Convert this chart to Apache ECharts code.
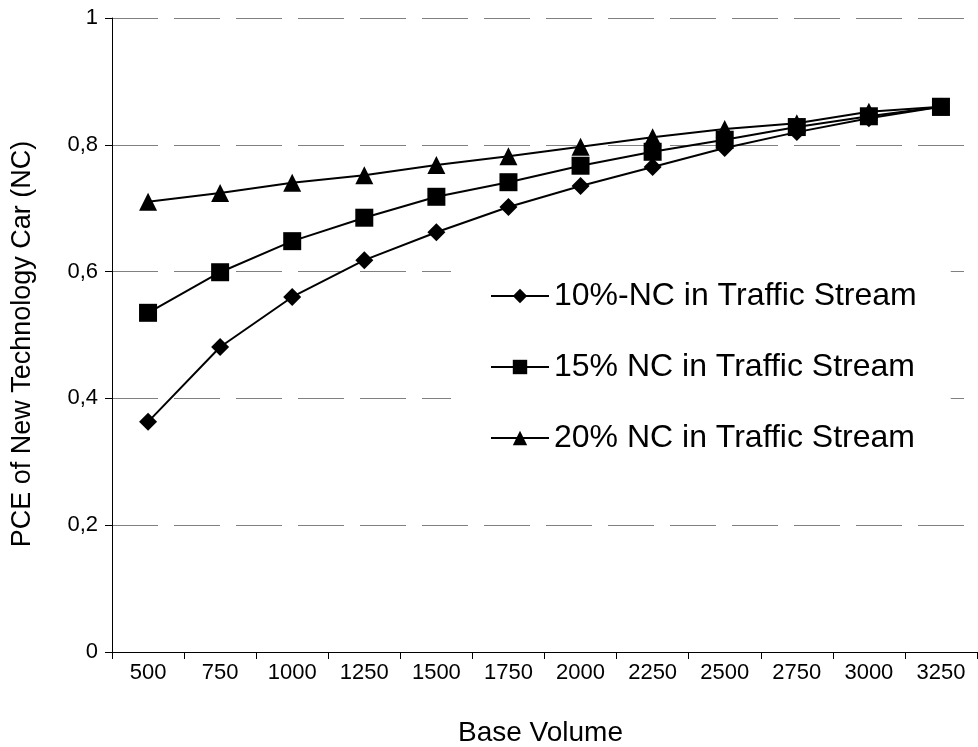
<!DOCTYPE html>
<html>
<head>
<meta charset="utf-8">
<script src="https://cdn.jsdelivr.net/npm/echarts@6/dist/echarts.min.js"></script>
<style>
html,body{margin:0;padding:0;background:#fff;}
#chart{width:978px;height:747px;}
</style>
</head>
<body>
<div id="chart"></div>
<script>
var categories = ['500','750','1000','1250','1500','1750','2000','2250','2500','2750','3000','3250'];
var nc10 = [0.363,0.481,0.560,0.618,0.662,0.702,0.735,0.765,0.795,0.820,0.842,0.860];
var nc15 = [0.535,0.599,0.648,0.685,0.718,0.741,0.767,0.789,0.808,0.828,0.845,0.860];
var nc20 = [0.710,0.724,0.740,0.752,0.768,0.782,0.797,0.812,0.825,0.834,0.852,0.860];
var seriesNames = ['10%-NC in Traffic Stream','15% NC in Traffic Stream','20% NC in Traffic Stream'];
var yTicks = [0,0.2,0.4,0.6,0.8,1];

var FONT = '"Liberation Sans", Arial, sans-serif';
var chart = echarts.init(document.getElementById('chart'), null, {renderer:'canvas'});

function mk(name, data, sym) {
  return {
    name: name, type: 'line', data: data,
    symbol: sym, symbolSize: 18,
    lineStyle: {color:'#000', width:2},
    itemStyle: {color:'#000'},
    animation: false
  };
}

chart.setOption({
  animation: false,
  backgroundColor: '#fff',
  grid: {left:112, top:18, right:1, bottom:95, containLabel:false, outerBoundsMode:'none'},
  legend: {
    orient: 'vertical',
    left: 451, top: 262,
    padding: [18, 34, 18, 39],
    backgroundColor: '#fff',
    itemWidth: 58, itemHeight: 18,
    itemGap: 39,
    data: seriesNames,
    textStyle: {fontFamily: FONT, fontSize: 32, color:'#000', lineHeight: 32}
  },
  xAxis: {
    type: 'category',
    data: categories,
    boundaryGap: true,
    name: 'Base Volume',
    nameLocation: 'middle',
    nameGap: 67,
    nameTextStyle: {fontFamily: FONT, fontSize: 28, color:'#000', padding:[0, 8, 0, 0]},
    axisLine: {lineStyle:{color:'#000', width:1}},
    axisTick: {show:true, length:7, inside:false, alignWithLabel:false, lineStyle:{color:'#000'}},
    axisLabel: {fontFamily: FONT, fontSize: 22, color:'#000', margin: 10, interval: 0},
    splitLine: {show:false}
  },
  yAxis: {
    type: 'value',
    min: yTicks[0], max: yTicks[yTicks.length-1], interval: 0.2,
    name: 'PCE of New Technology Car (NC)',
    nameLocation: 'middle',
    nameGap: 76,
    nameTextStyle: {fontFamily: FONT, fontSize: 27, color:'#000', padding:[0, 18, 0, 0]},
    axisLine: {show:true, lineStyle:{color:'#000', width:1}},
    axisTick: {show:true, length:7, inside:false, lineStyle:{color:'#000'}},
    axisLabel: {
      fontFamily: FONT, fontSize: 22, color:'#000', margin: 14,
      formatter: function(v){ return String(+v.toFixed(2)).replace('.', ','); }
    },
    splitLine: {show:true, lineStyle:{color:'#808080', width:1, type:[46,16]}}
  },
  series: [
    mk(seriesNames[0], nc10, 'diamond'),
    mk(seriesNames[1], nc15, 'rect'),
    mk(seriesNames[2], nc20, 'triangle')
  ]
});
</script>
</body>
</html>
